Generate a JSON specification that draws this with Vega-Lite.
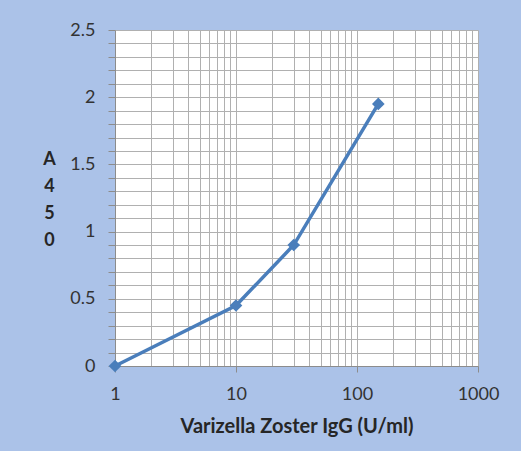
{
  "$schema": "https://vega.github.io/schema/vega-lite/v6.json",
  "width": 363,
  "height": 336,
  "autosize": {"type": "none"},
  "padding": {"left": 115, "top": 30, "right": 43, "bottom": 85},
  "background": "#ABC2E8",
  "config": {
    "view": {"fill": "white", "stroke": null},
    "font": "Lato",
    "axis": {
      "gridColor": "#B0B0B0",
      "gridWidth": 1,
      "gridOpacity": 1,
      "domainColor": "#8C8C8C",
      "labelColor": "#333333",
      "labelFont": "Lato",
      "labelFontSize": 18,
      "titleFont": "Lato",
      "titleFontSize": 18,
      "titleFontWeight": "bold",
      "titleColor": "#262626",
      "labelOverlap": false,
      "labelFlush": false
    }
  },
  "data": {
    "values": [
      {"conc": 1, "a450": 0},
      {"conc": 10, "a450": 0.45},
      {"conc": 30, "a450": 0.9},
      {"conc": 150, "a450": 1.95}
    ]
  },
  "mark": {
    "type": "line",
    "color": "#4A7EBB",
    "strokeWidth": 3.5,
    "point": {"shape": "diamond", "size": 160, "filled": true, "color": "#4A7EBB", "opacity": 1}
  },
  "encoding": {
    "x": {
      "field": "conc",
      "type": "quantitative",
      "scale": {"type": "log", "domain": [1, 1000], "nice": false},
      "axis": {
        "title": "Varizella Zoster IgG (U/ml)",
        "titleFontSize": 20,
        "values": [1, 2, 3, 4, 5, 6, 7, 8, 9, 10, 20, 30, 40, 50, 60, 70, 80, 90, 100, 200, 300, 400, 500, 600, 700, 800, 900, 1000],
        "labelExpr": "indexof([1, 10, 100, 1000], datum.value) >= 0 ? '' + datum.value : ''",
        "tickColor": {"condition": {"test": "indexof([1, 10, 100, 1000], datum.value) >= 0", "value": "#8C8C8C"}, "value": "transparent"},
        "tickSize": 6,
        "labelPadding": 13,
        "titleY": 60,
        "titleBaseline": "middle"
      }
    },
    "y": {
      "field": "a450",
      "type": "quantitative",
      "scale": {"domain": [0, 2.5], "nice": false, "zero": true},
      "axis": {
        "title": ["A", "4", "5", "0"],
        "titleAngle": 0,
        "titleAlign": "center",
        "titleBaseline": "middle",
        "titleLineHeight": 27,
        "titleX": -66,
        "titleY": 129,
        "values": [0, 0.1, 0.2, 0.3, 0.4, 0.5, 0.6, 0.7, 0.8, 0.9, 1, 1.1, 1.2, 1.3, 1.4, 1.5, 1.6, 1.7, 1.8, 1.9, 2, 2.1, 2.2, 2.3, 2.4, 2.5],
        "labelExpr": "abs(datum.value * 2 - round(datum.value * 2)) < 0.000001 ? '' + round(datum.value * 10) / 10 : ''",
        "tickColor": "#8C8C8C",
        "tickSize": 7,
        "labelPadding": 13
      }
    }
  }
}
